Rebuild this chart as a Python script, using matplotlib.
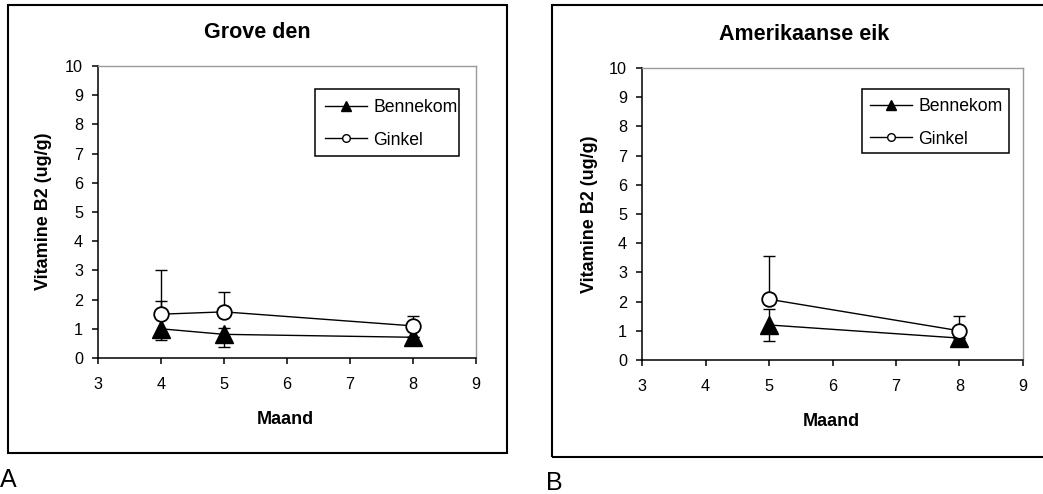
import matplotlib
matplotlib.use("Agg")
import matplotlib.pyplot as plt
from matplotlib.patches import Rectangle
from matplotlib.lines import Line2D

plt.rcParams['font.family'] = ['Liberation Sans', 'DejaVu Sans']

W, H = 1043, 494

# ---- data -------------------------------------------------------------
months_a = [4, 5, 8]
bennekom_a = [1.0, 0.81, 0.71]
bennekom_a_err_lo = [0.4, 0.45, 0.0]
bennekom_a_err_hi = [0.95, 0.23, 0.0]
ginkel_a = [1.5, 1.58, 1.1]
ginkel_a_err_hi = [1.5, 0.67, 0.35]

months_b = [5, 8]
bennekom_b = [1.2, 0.75]
bennekom_b_err_lo = [0.55, 0.0]
bennekom_b_err_hi = [0.53, 0.0]
ginkel_b = [2.08, 1.0]
ginkel_b_err_hi = [1.49, 0.5]

titles = ["Grove den", "Amerikaanse eik"]
series_names = ["Bennekom", "Ginkel"]
x_ticks = [3, 4, 5, 6, 7, 8, 9]
y_ticks = list(range(0, 11))
x_label = "Maand"
y_label = "Vitamine B2 (ug/g)"
panel_letters = ["A", "B"]


def fx(px):
    return px / W


def fy(py):
    return 1 - py / H


def frame(x0, y0, x1, y1, lw):
    fig.add_artist(Rectangle((fx(x0), fy(y1)), fx(x1 - x0), (y1 - y0) / H,
                             transform=fig.transFigure, fill=False,
                             edgecolor="black", linewidth=lw, clip_on=False,
                             zorder=5))


fig = plt.figure(figsize=(W / 100, H / 100), dpi=100)
fig.patch.set_facecolor("white")


def panel(box, plot, title_xy, xlabel_xy, ylabel_xy, legend_box, legend_xy,
          months, benn, benn_lo, benn_hi, gink, gink_hi, title):
    # outer frame of the chart
    frame(*box, lw=1.5)
    px0, py0, px1, py1 = plot
    ax = fig.add_axes([fx(px0), fy(py1), fx(px1 - px0), (py1 - py0) / H])
    ax.set_xlim(3, 9)
    ax.set_ylim(0, 10)
    ax.set_xticks(x_ticks)
    ax.set_yticks(y_ticks)
    ax.tick_params(direction="out", length=4.3, width=1.1, labelsize=11.7,
                   color="black")
    ax.tick_params(axis="x", pad=9.5)
    ax.tick_params(axis="y", pad=6.5)
    for s in ("left", "bottom"):
        ax.spines[s].set_linewidth(1.1)
        ax.spines[s].set_color("black")
    for s in ("top", "right"):
        ax.spines[s].set_linewidth(1.0)
        ax.spines[s].set_color("#9a9a9a")

    # Bennekom: filled triangles with two-sided error bars
    ax.errorbar(months, benn, yerr=[benn_lo, benn_hi], fmt="none",
                ecolor="black", elinewidth=1.0, capsize=4.3, capthick=1.0,
                zorder=2)
    ax.plot(months, benn, color="black", lw=1.0, marker="^", ms=12.5,
            mfc="black", mec="black", zorder=3)
    # Ginkel: open circles with upward error bars
    ax.errorbar(months, gink, yerr=[[0] * len(gink), gink_hi], fmt="none",
                ecolor="black", elinewidth=1.0, capsize=4.3, capthick=1.0,
                zorder=2)
    ax.plot(months, gink, color="black", lw=1.0, marker="o", ms=10.5,
            mfc="white", mec="black", mew=1.3, zorder=4)

    handles = [
        Line2D([], [], color="black", lw=1.0, marker="^", ms=6.5,
               mfc="black", mec="black"),
        Line2D([], [], color="black", lw=1.0, marker="o", ms=5.5,
               mfc="white", mec="black", mew=1.0),
    ]
    fig.legend(handles, series_names, loc="upper left",
               bbox_to_anchor=(fx(legend_xy[0]), fy(legend_xy[1])),
               bbox_transform=fig.transFigure, fontsize=12.7,
               frameon=False, borderpad=0, borderaxespad=0,
               handlelength=2.4, handletextpad=0.34, labelspacing=0.88)
    frame(*legend_box, lw=1.1)

    fig.text(fx(title_xy[0]), fy(title_xy[1]), title, ha="center",
             va="center", fontsize=15.5, fontweight="bold")
    fig.text(fx(xlabel_xy[0]), fy(xlabel_xy[1]), x_label, ha="center",
             va="center", fontsize=13, fontweight="bold")
    fig.text(fx(ylabel_xy[0]), fy(ylabel_xy[1]), y_label, ha="center",
             va="center", rotation=90, fontsize=13, fontweight="bold")
    return ax


panel((8, 5, 507, 453), (98, 66, 476, 358), (257.5, 33), (285, 419),
      (44, 211), (315, 89, 459, 156), (325, 99), months_a, bennekom_a,
      bennekom_a_err_lo, bennekom_a_err_hi, ginkel_a, ginkel_a_err_hi,
      titles[0])
panel((552, 5, 1057, 457), (642, 68, 1023, 360), (804.5, 34), (831, 421),
      (589, 214), (862, 89, 1009, 153), (870, 98), months_b, bennekom_b,
      bennekom_b_err_lo, bennekom_b_err_hi, ginkel_b, ginkel_b_err_hi,
      titles[1])

fig.text(fx(0), fy(487), panel_letters[0], ha="left", va="baseline",
         fontsize=18)
fig.text(fx(546), fy(490), panel_letters[1], ha="left", va="baseline",
         fontsize=18)

fig.savefig("out.png", dpi=100, facecolor="white")
